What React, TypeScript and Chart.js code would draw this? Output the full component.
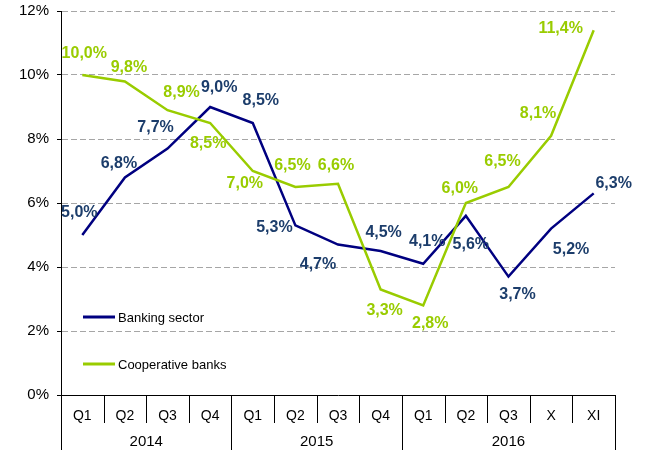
import React, { useEffect, useRef } from 'react';
import { Chart, registerables } from 'chart.js';

Chart.register(...registerables);

const categories = ['Q1', 'Q2', 'Q3', 'Q4', 'Q1', 'Q2', 'Q3', 'Q4', 'Q1', 'Q2', 'Q3', 'X', 'XI'];
const years = ['2014', '2015', '2016'];
const yearSpans = [4, 4, 5];
const seriesNames = ['Banking sector', 'Cooperative banks'];
const bankingSector = [5.0, 6.8, 7.7, 9.0, 8.5, 5.3, 4.7, 4.5, 4.1, 5.6, 3.7, 5.2, 6.3];
const cooperativeBanks = [10.0, 9.8, 8.9, 8.5, 7.0, 6.5, 6.6, 3.3, 2.8, 6.0, 6.5, 8.1, 11.4];
const yMin = 0;
const yMax = 12;
const yStep = 2;

// label placement relative to each point (styling only)
const bankingLabelOffsets = [[-3, -22], [-6, -14], [-12, -21], [9, -19], [8, -22], [-21, 2], [-20, 20], [3, -18], [4, -22], [5, 29], [9, 18], [20, 21], [20, -10]];
const coopLabelOffsets = [[2, -21], [4, -14], [14, -18], [-2, 21], [-8, 13], [-3, -21], [-2, -18], [4, 21], [7, 18], [-6, -14], [-6, -25], [-13, -22], [-33, -2]];

const FONT = '"Liberation Sans", Arial, sans-serif';
const NAVY = '#000080';
const NAVY_LABEL = '#1C3D6B';
const GREEN = '#99CC00';

const fmt = (v: number) => v.toFixed(1).replace('.', ',') + '%';

const overlayPlugin = {
  id: 'overlay',
  afterDatasetsDraw(chart: any) {
    const ctx = chart.ctx;
    const offsets = [bankingLabelOffsets, coopLabelOffsets];
    const colors = [NAVY_LABEL, GREEN];
    ctx.save();
    ctx.font = `bold 16px ${FONT}`;
    ctx.textAlign = 'center';
    ctx.textBaseline = 'middle';
    chart.data.datasets.forEach((ds: any, di: number) => {
      const meta = chart.getDatasetMeta(di);
      meta.data.forEach((pt: any, i: number) => {
        ctx.fillStyle = colors[di];
        ctx.fillText(fmt(ds.data[i]), pt.x + offsets[di][i][0], pt.y + offsets[di][i][1]);
      });
    });
    ctx.restore();
  },
  afterDraw(chart: any) {
    const ctx = chart.ctx;
    const area = chart.chartArea;
    const xs = chart.scales.x;
    const H = chart.height;
    const n = categories.length;
    const bounds: number[] = [];
    for (let i = 0; i <= n; i++) {
      if (i === 0) bounds.push(area.left);
      else if (i === n) bounds.push(area.right);
      else bounds.push((xs.getPixelForValue(i - 1) + xs.getPixelForValue(i)) / 2);
    }
    const yearBounds: number[] = [0];
    yearSpans.forEach((s) => yearBounds.push(yearBounds[yearBounds.length - 1] + s));
    ctx.save();
    ctx.strokeStyle = '#000';
    ctx.lineWidth = 1;
    bounds.forEach((b, i) => {
      const x = Math.round(b) + 0.5;
      const isYear = yearBounds.includes(i);
      ctx.beginPath();
      ctx.moveTo(x, area.bottom);
      ctx.lineTo(x, isYear ? H : area.bottom + 28);
      ctx.stroke();
    });
    ctx.fillStyle = '#000';
    ctx.font = `15px ${FONT}`;
    ctx.textAlign = 'center';
    ctx.textBaseline = 'middle';
    years.forEach((y, i) => {
      const cx = (bounds[yearBounds[i]] + bounds[yearBounds[i + 1]]) / 2;
      ctx.fillText(y, cx, area.bottom + 47);
    });
    // legend
    const legendColors = [NAVY, GREEN];
    const legendY = [317, 364];
    ctx.font = `13px ${FONT}`;
    ctx.textAlign = 'left';
    seriesNames.forEach((name, i) => {
      ctx.strokeStyle = legendColors[i];
      ctx.lineWidth = 3;
      ctx.beginPath();
      ctx.moveTo(83, legendY[i]);
      ctx.lineTo(115, legendY[i]);
      ctx.stroke();
      ctx.fillStyle = '#000';
      ctx.fillText(name, 118, legendY[i] + 1);
    });
    ctx.restore();
  },
};

export default function App() {
  const ref = useRef<HTMLCanvasElement>(null);
  useEffect(() => {
    if (!ref.current) return;
    const chart = new Chart(ref.current, {
      type: 'line',
      data: {
        labels: categories,
        datasets: [
          {
            label: seriesNames[0],
            data: bankingSector,
            borderColor: NAVY,
            backgroundColor: NAVY,
            borderWidth: 2.5,
            pointRadius: 0,
            tension: 0,
            fill: false,
            order: 1,
          },
          {
            label: seriesNames[1],
            data: cooperativeBanks,
            borderColor: GREEN,
            backgroundColor: GREEN,
            borderWidth: 2.5,
            pointRadius: 0,
            tension: 0,
            fill: false,
            order: 0,
          },
        ],
      },
      options: {
        responsive: false,
        animation: false,
        events: [],
        layout: { padding: { top: 11, right: 52, bottom: 0, left: 0 } },
        plugins: { legend: { display: false }, tooltip: { enabled: false } },
        scales: {
          x: {
            type: 'category',
            offset: true,
            grid: { display: false },
            border: { display: true, color: '#000', width: 1 },
            ticks: { color: '#000', font: { size: 14, family: FONT }, padding: 5, maxRotation: 0, autoSkip: false },
            afterFit: (s: any) => { s.height = 55; s.paddingLeft = 0; s.paddingRight = 0; },
          },
          y: {
            min: yMin,
            max: yMax,
            ticks: {
              stepSize: yStep,
              color: '#000',
              font: { size: 15, family: FONT },
              padding: 8,
              callback: (v: any) => v + '%',
            },
            grid: {
              color: (c: any) => (c.tick && c.tick.value === 0 ? 'rgba(0,0,0,0)' : '#A6A6A6'),
              lineWidth: 1,
              drawTicks: true,
              tickLength: 4,
              tickColor: '#000',
            },
            border: { display: true, color: '#000', width: 1, dash: [6, 3] },
            afterFit: (s: any) => { s.width = 61; s.paddingTop = 0; s.paddingBottom = 0; },
          },
        },
      },
      plugins: [overlayPlugin],
    });
    return () => chart.destroy();
  }, []);
  return (
    <div style={{ position: 'fixed', left: 0, top: 0, width: 667, height: 450, background: '#fff' }}>
      <canvas ref={ref} width={667} height={450} />
    </div>
  );
}
